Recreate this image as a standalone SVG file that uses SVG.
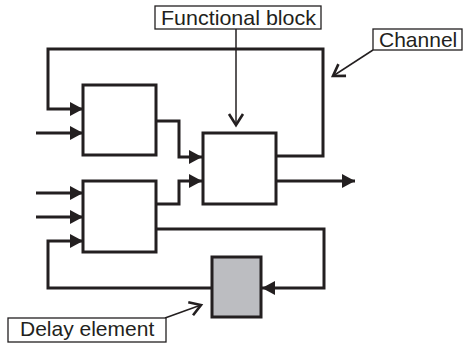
<svg xmlns="http://www.w3.org/2000/svg" width="463" height="346" viewBox="0 0 463 346">
  <style>
    .blk { fill: #ffffff; stroke: #231f20; stroke-width: 3; }
    .delay { fill: #bcbdc1; stroke: #231f20; stroke-width: 3; }
    .wire { fill: none; stroke: #231f20; stroke-width: 3; stroke-linejoin: miter; }
    .lbl { fill: #ffffff; stroke: #231f20; stroke-width: 1.3; }
    .ptr { fill: none; stroke: #231f20; stroke-width: 1.5; }
    .txt { font-family: "Liberation Sans", Arial, sans-serif; font-size: 21px; fill: #231f20; }
  </style>
  <defs>
    <marker id="solid" viewBox="0 0 13 14" refX="13" refY="7" markerWidth="13" markerHeight="14" markerUnits="userSpaceOnUse" orient="auto">
      <path d="M0,0 L13,7 L0,14 Z" fill="#231f20"/>
    </marker>
    <marker id="open" viewBox="-2 -2 16 18" refX="11" refY="7" markerWidth="16" markerHeight="18" markerUnits="userSpaceOnUse" orient="auto" overflow="visible">
      <path d="M0,0 L11,7 L0,14" fill="none" stroke="#231f20" stroke-width="2.6" stroke-linejoin="miter"/>
    </marker>
  </defs>

  <g id="connectors">
    <polyline class="wire" points="276,156 323,156 323,49 48,49 48,109 83,109" marker-end="url(#solid)"/>
    <line class="wire" x1="36" y1="133" x2="83" y2="133" marker-end="url(#solid)"/>
    <polyline class="wire" points="156,121 179,121 179,157 202,157" marker-end="url(#solid)"/>
    <line class="wire" x1="36" y1="193" x2="83" y2="193" marker-end="url(#solid)"/>
    <line class="wire" x1="36" y1="217" x2="83" y2="217" marker-end="url(#solid)"/>
    <polyline class="wire" points="212,288 48,288 48,241 83,241" marker-end="url(#solid)"/>
    <polyline class="wire" points="156,204 179,204 179,181 202,181" marker-end="url(#solid)"/>
    <polyline class="wire" points="156,229 324,229 324,288 262,288" marker-end="url(#solid)"/>
    <line class="wire" x1="276" y1="181" x2="355" y2="181" marker-end="url(#solid)"/>
  </g>

  <g id="block1"><rect class="blk" x="83" y="85" width="73" height="70"/></g>
  <g id="block2"><rect class="blk" x="83" y="181" width="73" height="71"/></g>
  <g id="functional"><rect class="blk" x="203" y="133" width="73" height="71"/></g>
  <g id="delay"><rect class="delay" x="212" y="257" width="49" height="60"/></g>

  <g id="label-functional">
    <line class="ptr" x1="236" y1="29" x2="236" y2="125" marker-end="url(#open)"/>
    <rect class="lbl" x="155" y="6" width="166" height="23"/>
    <text class="txt" x="161" y="24.5" textLength="155" lengthAdjust="spacingAndGlyphs">Functional block</text>
  </g>
  <g id="label-channel">
    <line class="ptr" x1="373" y1="50" x2="333" y2="76" marker-end="url(#open)"/>
    <rect class="lbl" x="373" y="29" width="89" height="21"/>
    <text class="txt" x="379" y="47">Channel</text>
  </g>
  <g id="label-delay">
    <line class="ptr" x1="165" y1="318" x2="201" y2="305" marker-end="url(#open)"/>
    <rect class="lbl" x="8" y="318" width="158" height="24"/>
    <text class="txt" x="20" y="336">Delay element</text>
  </g>
</svg>
